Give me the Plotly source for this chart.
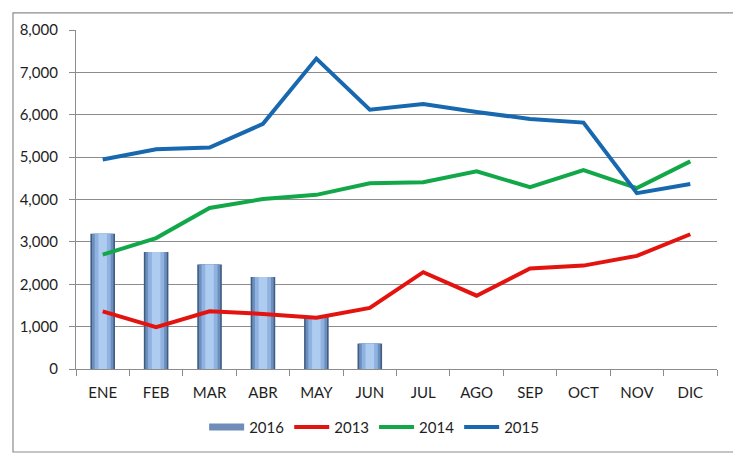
import plotly.graph_objects as go

months = ["ENE", "FEB", "MAR", "ABR", "MAY", "JUN", "JUL", "AGO", "SEP", "OCT", "NOV", "DIC"]
v2016 = [3190, 2760, 2465, 2170, 1230, 600, None, None, None, None, None, None]
v2013 = [1360, 990, 1360, 1300, 1210, 1440, 2285, 1730, 2370, 2440, 2670, 3180]
v2014 = [2700, 3090, 3800, 4010, 4110, 4385, 4410, 4665, 4290, 4695, 4270, 4900]
v2015 = [4945, 5185, 5225, 5785, 7325, 6120, 6255, 6065, 5900, 5815, 4150, 4365]

FONT = "Lato"
fig = go.Figure()

# legend entry for 2016 (wide bar swatch like the original)
fig.add_trace(go.Scatter(
    x=[months[0]], y=[None], name="2016", mode="lines",
    line=dict(color="#6F8DB8", width=7), legendgroup="2016", hoverinfo="skip",
))

# 2016 bars, layered to imitate the cylinder shading
bar_layers = [
    (0.46, "#3F5C82"),
    (0.40, "#6D8FBE"),
    (0.30, "#8FB2E0"),
    (0.16, "#AECBF0"),
]
for i, (w, c) in enumerate(bar_layers):
    fig.add_trace(go.Bar(
        x=months, y=v2016, name="2016", width=w,
        marker=dict(color=c, line=dict(width=0)),
        showlegend=False, legendgroup="2016",
        hoverinfo="skip" if i else None,
    ))

for name, vals, col in [("2013", v2013, "#E3140F"), ("2014", v2014, "#12A84A"), ("2015", v2015, "#1868B0")]:
    fig.add_trace(go.Scatter(
        x=months, y=vals, name=name, mode="lines",
        line=dict(color=col, width=4),
    ))

# page body has an 8px margin; work in screen pixels and convert
OFF = 8
W, H = 741 - OFF, 474 - OFF
PL, PR, PT, PB = 72, 717, 26, 369  # plot area in screen pixels
L, R, T = PL - OFF, W - (PR - OFF), PT - OFF
B = H - (PB - OFF)
pw, ph = PR - PL, PB - PT

def px2paper_x(px):
    return (px - PL) / pw

def px2paper_y(py):
    return (PB - py) / ph

fig.add_shape(type="rect", xref="paper", yref="paper",
              x0=px2paper_x(8.6), x1=px2paper_x(734), y0=px2paper_y(453), y1=px2paper_y(8.6),
              line=dict(color="#8C8C8C", width=1.2), fillcolor="rgba(0,0,0,0)", layer="below")

fig.update_layout(
    width=W, height=H,
    margin=dict(l=L, r=R, t=T, b=B),
    paper_bgcolor="white", plot_bgcolor="white",
    barmode="overlay",
    font=dict(family=FONT, size=14, color="#1E1E1E"),
    legend=dict(orientation="h", x=px2paper_x(372), xanchor="center",
                y=px2paper_y(428), yanchor="middle",
                font=dict(family=FONT, size=15, color="#1E1E1E"),
                itemwidth=35, tracegroupgap=0, bgcolor="rgba(0,0,0,0)"),
    xaxis=dict(
        type="category", showgrid=False, showline=True, linecolor="#8C8C8C", linewidth=1.2,
        ticks="outside", tickson="boundaries", ticklen=6, tickcolor="#8C8C8C",
        ticklabelstandoff=10, tickfont=dict(family=FONT, size=15, color="#1E1E1E"),
        range=[-0.5, 11.5], fixedrange=True,
    ),
    yaxis=dict(
        range=[0, 8000], dtick=1000, tickformat=",", showgrid=True,
        gridcolor="#8C8C8C", gridwidth=1.2, showline=True, linecolor="#8C8C8C", linewidth=1.2,
        ticks="outside", ticklen=6, tickcolor="#8C8C8C", zeroline=False,
        ticklabelstandoff=8, tickfont=dict(family=FONT, size=15, color="#1E1E1E"),
        fixedrange=True,
    ),
)

fig.write_html("out.html")
